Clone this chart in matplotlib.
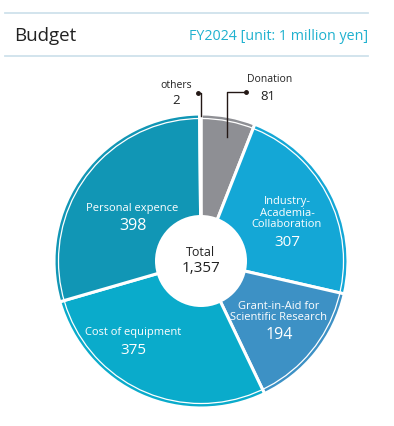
import matplotlib
matplotlib.use("Agg")
import matplotlib.pyplot as plt
from matplotlib.patches import Circle

# budget breakdown, FY2024 (unit: 1 million yen)
categories = ["Donation", "Industry-\nAcademia-\nCollaboration",
              "Grant-in-Aid for\nScientific Research", "Cost of equipment",
              "Personal expence", "others"]
values = [81, 307, 194, 375, 398, 2]
total = 1357

colors = ["#8e8f94", "#14a7d6", "#3d91c5", "#0aabcb", "#1196b5", "#1196b5"]

W, H = 394, 426

def Y(y):
    # image y (top-down) -> data y
    return H - y

plt.rcParams['font.family'] = ['Open Sans', 'DejaVu Sans']

fig = plt.figure(figsize=(W / 100, H / 100), dpi=100)
ax = fig.add_axes([0, 0, 1, 1])
ax.set_xlim(0, W)
ax.set_ylim(0, H)
ax.set_aspect("equal")
ax.axis("off")

# header
ax.plot([5, 368], [Y(13), Y(13)], color="#cfe2ec", lw=1.3)
ax.plot([5, 368], [Y(56), Y(56)], color="#cfe2ec", lw=1.3)
ax.text(14, Y(36), "Budget", fontsize=13.5, color="#222222", va="center", ha="left")
ax.text(368, Y(37), "FY2024 [unit: 1 million yen]", fontsize=10.3, color="#1fb1cf",
        va="center", ha="right")

# the pie
cx, cy, R = 201, Y(261), 147
ax.pie(values, startangle=90, counterclock=False, radius=R, center=(cx, cy),
       colors=colors, wedgeprops=dict(edgecolor="white", linewidth=2.2))
ax.set_xlim(0, W)
ax.set_ylim(0, H)
ax.add_patch(Circle((cx, cy), R - 4.5, fill=False, edgecolor="white", lw=0.9, zorder=3))
ax.add_patch(Circle((cx, cy), 46, facecolor="white", edgecolor="none", zorder=4))

# labels inside the slices
white = dict(color="white", ha="center", va="center", zorder=5)
ax.text(287, Y(213), categories[1], fontsize=8, linespacing=1.05, **white)
ax.text(287, Y(242), str(values[1]), fontsize=11, **white)
ax.text(279, Y(312), categories[2], fontsize=8, linespacing=1.0, **white)
ax.text(279, Y(335), str(values[2]), fontsize=11.5, **white)
ax.text(133, Y(333), categories[3], fontsize=8, **white)
ax.text(133, Y(350), str(values[3]), fontsize=11, **white)
ax.text(132, Y(209), categories[4], fontsize=8, **white)
ax.text(133, Y(226), str(values[4]), fontsize=11.5, **white)

# centre total
ax.text(cx, Y(252), "Total", fontsize=9, color="#222222", ha="center", va="center", zorder=5)
ax.text(cx, Y(269), f"{total:,}", fontsize=11, color="#222222", ha="center", va="center", zorder=5)

# outside labels with leader lines
ax.text(176, Y(86), categories[5], fontsize=7.5, color="#222222", ha="center", va="center")
ax.text(176, Y(101), str(values[5]), fontsize=9.5, color="#222222", ha="center", va="center")
ax.plot([198, 201.5, 201.5], [Y(93), Y(93), Y(116)], color="#231815", lw=1, zorder=6)
ax.plot([198], [Y(93)], "o", color="#231815", ms=2.5, zorder=6)

ax.text(270, Y(80), categories[0], fontsize=7.5, color="#222222", ha="center", va="center")
ax.text(268, Y(97), str(values[0]), fontsize=9.5, color="#222222", ha="center", va="center")
ax.plot([246, 227, 227], [Y(92), Y(92), Y(137)], color="#231815", lw=1, zorder=6)
ax.plot([246], [Y(92)], "o", color="#231815", ms=2.5, zorder=6)

fig.savefig("out.png", dpi=100)
